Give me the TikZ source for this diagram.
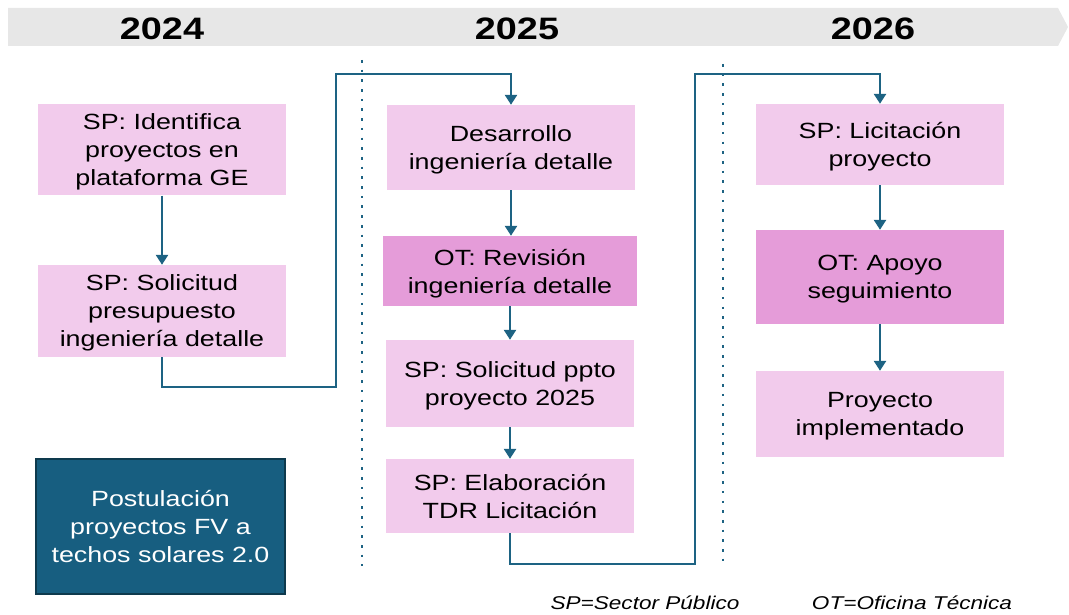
\documentclass[tikz,border=0pt]{standalone}
\usepackage{fontspec}
\setmainfont[FakeStretch=1.22]{Liberation Sans}
\usetikzlibrary{arrows.meta}

\definecolor{banner}{HTML}{E7E7E7}
\definecolor{spfill}{HTML}{F2CBEC}
\definecolor{otfill}{HTML}{E59CD9}
\definecolor{flowc}{HTML}{1D6383}
\definecolor{postfill}{HTML}{175E80}
\definecolor{postline}{HTML}{0E3A4D}

\tikzset{
  sp/.style={fill=spfill, align=center, inner sep=0pt, minimum width=248pt,
    text depth=0pt, font=\fontsize{22}{28}\selectfont},
  ot/.style={sp, fill=otfill},
  flow/.style={draw=flowc, line width=2.8pt, -{Triangle[width=12pt,length=10pt]}},
  sep/.style={draw=flowc, line width=2.8pt, dash pattern=on 2.6pt off 7.1pt},
  year/.style={font=\fontsize{31}{34}\selectfont\bfseries}
}

\begin{document}
\begin{tikzpicture}[x=1pt, y=-1pt]
\useasboundingbox (0,0) rectangle (1069,615);

% timeline banner
\fill[banner] (8,8) -- (1058,8) -- (1068,27) -- (1058,46) -- (8,46) -- cycle;
\node[year] (y24) at (162,29) {2024};
\node[year] (y25) at (517,29) {2025};
\node[year] (y26) at (873,29) {2026};

% year separators
\draw[sep] (362,60) -- (362,566);
\draw[sep] (723,64) -- (723,566);

% 2024
\node[sp, minimum height=91pt] (ident) at (162,150) {SP: Identifica\\proyectos en\\plataforma GE};
\node[sp, minimum height=92pt] (presup) at (162,311) {SP: Solicitud\\presupuesto\\ingeniería detalle};
\node[draw=postline, line width=2.2pt, fill=postfill, text=white, align=center, minimum width=249pt,
  minimum height=135pt, font=\fontsize{22}{28}\selectfont] (postul) at (160.5,526.5)
  {Postulación\\proyectos FV a\\techos solares 2.0};

% 2025
\node[sp, minimum height=85pt] (desarrollo) at (511,147.5) {Desarrollo\\ingeniería detalle};
\node[ot, minimum width=254pt, minimum height=70pt] (revision) at (510,271) {OT: Revisión\\ingeniería detalle};
\node[sp, minimum height=87pt] (ppto) at (510,383.5) {SP: Solicitud ppto\\proyecto 2025};
\node[sp, minimum height=74pt] (tdr) at (510,496) {SP: Elaboración\\TDR Licitación};

% 2026
\node[sp, minimum height=81pt] (licit) at (880,144.5) {SP: Licitación\\proyecto};
\node[ot, minimum height=94pt] (apoyo) at (880,277) {OT: Apoyo\\seguimiento};
\node[sp, minimum height=86pt] (implem) at (880,414) {Proyecto\\implementado};

% connectors
\coordinate (turnA) at (336,387);
\coordinate (turnB) at (336,74);
\coordinate (turnC) at (695,564);
\coordinate (turnD) at (695,74);

\draw[flow] (ident) -- (presup);
\draw[flow] (presup.south) |- (turnA) -- (turnB) -| (desarrollo.north);
\draw[flow] (desarrollo.south) -- (desarrollo.south |- revision.north);
\draw[flow] (revision) -- (ppto);
\draw[flow] (ppto) -- (tdr);
\draw[flow] (tdr.south) |- (turnC) -- (turnD) -| (licit.north);
\draw[flow] (licit) -- (apoyo);
\draw[flow] (apoyo) -- (implem);

% legend
\node[font=\fontsize{18.5}{22}\selectfont\itshape] (legsp) at (645,603) {SP=Sector Público};
\node[font=\fontsize{18.5}{22}\selectfont\itshape] (legot) at (912,603) {OT=Oficina Técnica};
\end{tikzpicture}
\end{document}
